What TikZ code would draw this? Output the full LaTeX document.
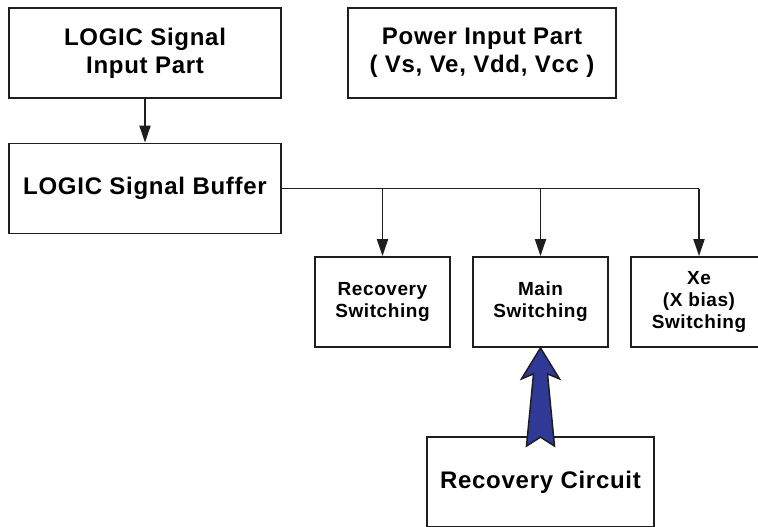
\documentclass[tikz,border=0pt]{standalone}
\usepackage{fontspec}
\setmainfont[LetterSpace=3]{Liberation Sans}
\usepackage{tikz}
\usetikzlibrary{arrows.meta, positioning, calc}
\definecolor{mydark}{RGB}{30,30,30}
\definecolor{myblue}{RGB}{48,58,150}
\tikzset{
  block/.style={rectangle, draw=mydark, fill=white, inner sep=0pt,
    minimum width=272pt, minimum height=90pt, align=center,
    font=\fontsize{24}{28}\selectfont\bfseries, line width=1.8pt},
  smallblock/.style={rectangle, draw=mydark, fill=white, inner sep=0pt,
    minimum width=135pt, minimum height=90pt, align=center,
    font=\fontsize{19}{22}\selectfont\bfseries, line width=1.8pt},
  arrow/.style={-{Triangle[length=17pt, width=11pt]}, line width=1.8pt, color=mydark},
  line/.style={line width=1.8pt, color=mydark},
  bigarrow/.style={fill=myblue, draw=mydark, line width=1.5pt, line join=miter}
}
\begin{document}
\begin{tikzpicture}[x=1pt, y=-1pt]
  \useasboundingbox (0,0) rectangle (758,527);
  % Top row
  \node[block] (input) at (145,53) {LOGIC Signal\\Input Part};
  \node[block, minimum width=268pt] (power) at (482,53) {Power Input Part\\( Vs, Ve, Vdd, Vcc )};
  % Buffer
  \node[block] (buffer) at (145,188.5) {LOGIC Signal Buffer};
  % Switching blocks
  \node[smallblock] (recsw) at (382.5,302) {Recovery\\Switching};
  \node[smallblock] (mainsw) at (540.5,302) {Main\\Switching};
  \node[smallblock, minimum width=136pt] (xesw) at (699,302) {Xe\\(X bias)\\Switching};
  % Recovery circuit
  \node[block, minimum width=227pt] (reccirc) at (540.5,482) {Recovery Circuit};

  % Connectors
  \draw[arrow] (input) -- (buffer);
  \draw[line] (buffer.east) -- (xesw.north |- buffer.east);
  \foreach \n in {recsw, mainsw, xesw} {
    \draw[arrow] (\n.north |- buffer.east) -- (\n.north);
  }

  % Big recovery arrow
  \coordinate (tip) at (mainsw.south);
  \coordinate (notch) at ($(reccirc.north)+(0,1)$);
  \draw[bigarrow] (tip) -- ($(tip)+(19,31)$) -- ($(tip)+(7,26)$)
    -- ($(notch)+(14,9)$) -- (notch) -- ($(notch)+(-14,9)$)
    -- ($(tip)+(-7,26)$) -- ($(tip)+(-19,31)$) -- cycle;
\end{tikzpicture}
\end{document}
